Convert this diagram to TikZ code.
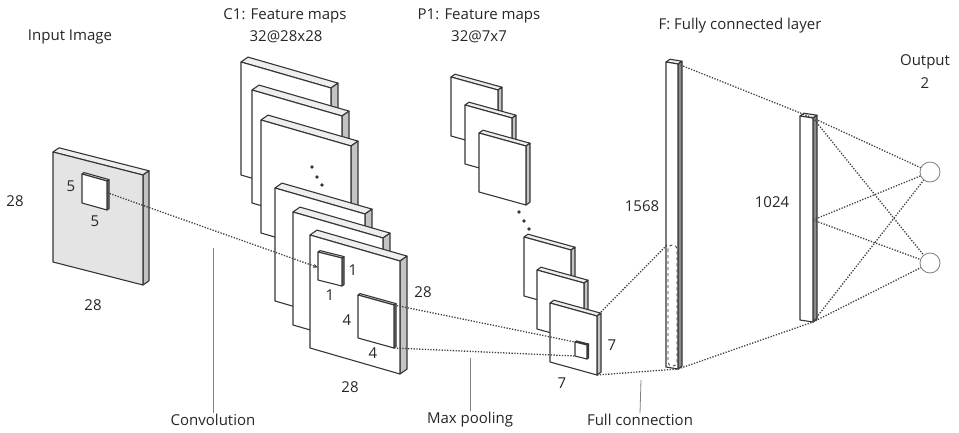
\documentclass[tikz,border=0pt]{standalone}
\usepackage{fontspec}
\setmainfont{Open Sans}
\usepackage{xcolor}
\definecolor{EdgeGray}{HTML}{363636}
\definecolor{SideGray}{HTML}{c4c4c4}
\definecolor{TopGray}{HTML}{eeeeee}
\definecolor{InputGray}{HTML}{e4e4e4}
\definecolor{BarGray}{HTML}{8c8c8c}
\definecolor{DotGray}{HTML}{404040}
\definecolor{TextDark}{HTML}{262626}
\usepackage{tikz}
\usetikzlibrary{arrows.meta, calc}

\tikzset{
  mapedge/.style={draw=EdgeGray, line width=1.1pt, line join=round},
  dotline/.style={draw=DotGray, line width=1.3pt, dash pattern=on 1.3pt off 1.5pt},
  tick/.style={draw=gray, line width=0.8pt},
  lbl/.style={text=TextDark, inner sep=1pt},
  outnode/.style={circle, draw=gray, line width=0.8pt, minimum size=20pt, inner sep=0pt},
}

% slab: name, x, y, width, height, slant, depth, face colour, side colour
\newcommand{\fmap}[9]{%
  \coordinate (#1-tl) at (#2,#3);
  \coordinate (#1-tr) at (#2+#4,#3+#6);
  \coordinate (#1-bl) at (#2,#3+#5);
  \coordinate (#1-br) at (#2+#4,#3+#5+#6);
  \draw[mapedge, fill=TopGray] (#1-tl) -- ++(#7,-0.7*#7) -- ($(#1-tr)+(#7,-0.7*#7)$) -- (#1-tr) -- cycle;
  \draw[mapedge, fill=#9] (#1-tr) -- ($(#1-tr)+(#7,-0.7*#7)$) -- ($(#1-br)+(#7,-0.7*#7)$) -- (#1-br) -- cycle;
  \draw[mapedge, fill=#8] (#1-tl) -- (#1-tr) -- (#1-br) -- (#1-bl) -- cycle;
}

\begin{document}
\begin{tikzpicture}[x=1pt, y=-1pt, font=\fontsize{15}{17}\selectfont]
  \useasboundingbox (0,0) rectangle (959,432);

  % titles
  \node[lbl] (inTitle) at (70,37) {Input Image};
  \node[lbl] (cTitle) at (285,16) {C1: Feature maps};
  \node[lbl] (cSize) at (286,37) {32@28x28};
  \node[lbl] (pTitle) at (479,16) {P1: Feature maps};
  \node[lbl] (pSize) at (479,37) {32@7x7};
  \node[lbl] (fTitle) at (740,26) {F: Fully connected layer};
  \node[lbl] (oTitle) at (925,62) {Output};
  \node[lbl] (oSize) at (925,83) {2};

  % input image
  \fmap{img}{53}{152}{90}{110}{23}{6}{InputGray}{SideGray}
  \fmap{win}{82}{174}{25}{29}{7}{2}{white}{BarGray}
  \node[lbl] (imgH) at (15,201) {28};
  \node[lbl] (imgW) at (93,305) {28};
  \node[lbl] (winH) at (71,186) {5};
  \node[lbl] (winW) at (95,221) {5};

  % C1 feature maps
  \foreach \x/\y [count=\i] in {241/62, 252/90, 261/120, 275/188, 293/212, 310/235}
    {\fmap{cmap\i}{\x}{\y}{90}{113}{26}{7}{white}{SideGray}}
  \foreach \x/\y in {312/167, 317/177, 322/185}
    \fill[EdgeGray] (\x,\y) circle (1.8pt);
  \fmap{kern}{318}{252}{24}{28}{6}{2}{white}{BarGray}
  \fmap{pool}{358}{295}{36}{43}{10}{2}{white}{BarGray}
  \node[lbl] (kernH) at (353,270) {1};
  \node[lbl] (kernW) at (330,295) {1};
  \node[lbl] (poolH) at (347,320) {4};
  \node[lbl] (poolW) at (373,353) {4};
  \node[lbl] (cmapH) at (423,292) {28};
  \node[lbl] (cmapW) at (350,387) {28};

  % P1 feature maps
  \foreach \x/\y [count=\i] in {451/77, 465/105, 479/133, 524/237, 537/270, 550/303}
    {\fmap{pmap\i}{\x}{\y}{47}{59}{13}{4}{white}{SideGray}}
  \foreach \x/\y in {519/212, 524/221, 529/229}
    \fill[EdgeGray] (\x,\y) circle (1.8pt);
  \fmap{cell}{575}{342}{12}{14}{3}{1.5}{white}{BarGray}
  \node[lbl] (pmapH) at (612,345) {7};
  \node[lbl] (pmapW) at (562,383) {7};

  % fully connected layers
  \fmap{fcA}{666}{62}{12}{305}{2}{4}{white}{BarGray}
  \draw[dashed, draw=EdgeGray, line width=0.8pt, rounded corners=4pt] (668,245) rectangle (677,366);
  \coordinate (fcA-dash) at (667,245);
  \fmap{fcB}{800}{116}{13}{204}{2}{4}{white}{BarGray}
  \coordinate (fcB-mid) at ($(fcB-tr)!0.5!(fcB-br)$);
  \node[lbl] (fcAN) at (642,206) {1568};
  \node[lbl] (fcBN) at (772,202) {1024};

  % output units
  \node[outnode] (out1) at (930,172) {};
  \node[outnode] (out2) at (930,263) {};

  % connections
  \coordinate (winOut) at ($(win-tr)!0.4!(win-br)$);
  \coordinate (kernIn) at ($(kern-tl)!0.55!(kern-bl)$);
  \draw[dotline, -{Stealth[length=5pt, width=4pt]}] (winOut) -- (kernIn);
  \draw[dotline] (pool-tr) -- (cell-tl);
  \draw[dotline] (pool-br) -- (cell-bl);
  \draw[dotline] (pmap6-tr) -- (fcA-dash);
  \draw[dotline] (pmap6-br) -- (fcA-br);
  \draw[dotline] (fcA-tr) -- (fcB-tr);
  \draw[dotline] (fcA-br) -- (fcB-br);
  \foreach \s in {tr, mid, br} {
    \draw[dotline] (fcB-\s) -- (out1);
    \draw[dotline] (fcB-\s) -- (out2);
  }

  % stage labels
  \node[lbl] (conv) at (213,420) {Convolution};
  \node[lbl] (maxp) at (470,420) {Max pooling};
  \node[lbl] (full) at (640,420) {Full connection};
  \coordinate (convTip) at (213,248);
  \coordinate (maxpTip) at (470,358);
  \coordinate (fullTip) at (641,380);
  \draw[tick] (conv.north) -- (convTip);
  \draw[tick] (maxp.north) -- (maxpTip);
  \draw[tick] (full.north) -- (fullTip);
\end{tikzpicture}
\end{document}
